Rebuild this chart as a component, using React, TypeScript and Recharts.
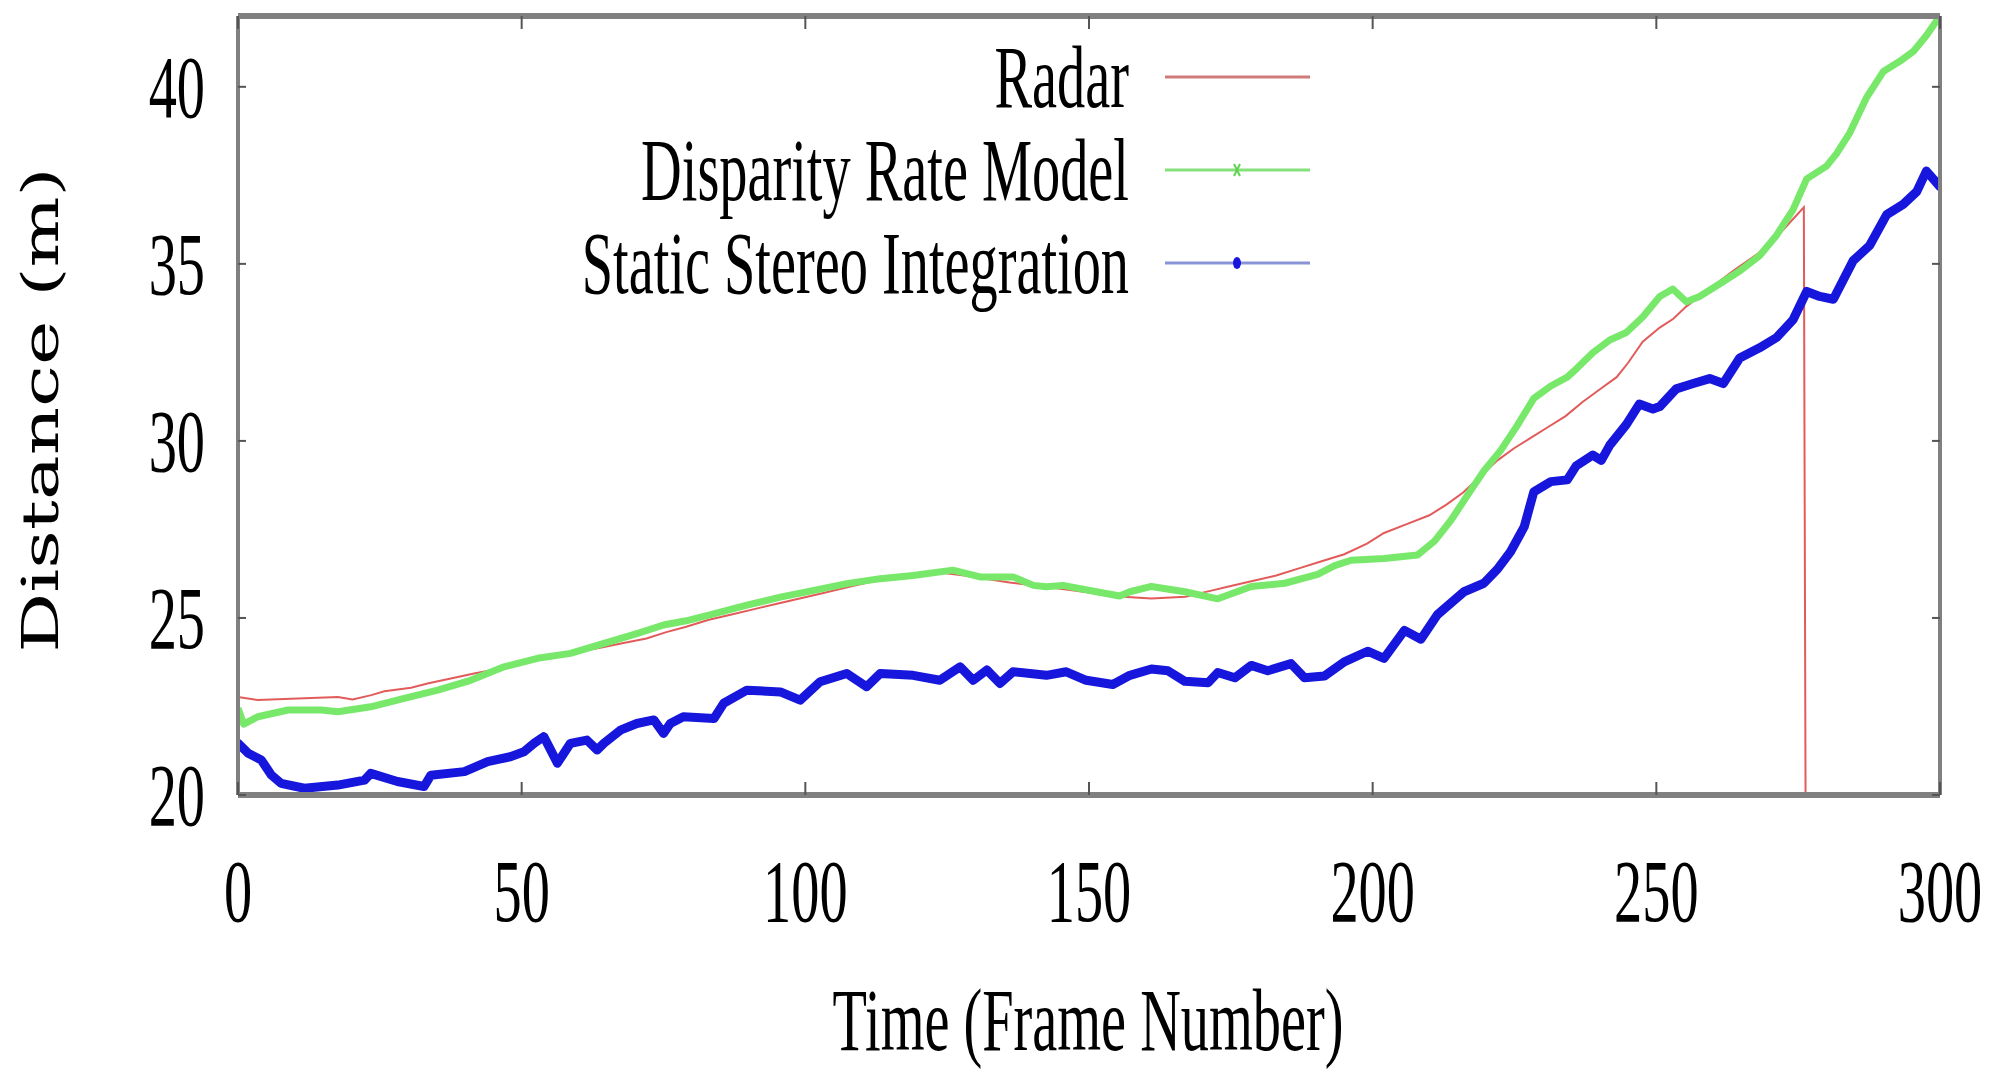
import { Line, LineChart, XAxis, YAxis } from "recharts";

const X_TICKS = [0, 50, 100, 150, 200, 250, 300];
const Y_TICKS = [20, 25, 30, 35, 40];

// Radar (drops out after frame 276)
const RADAR_FRAMES = [
    0, 3.5, 17.6, 20.2, 23.5, 25.8, 30.5, 33.4, 37.5, 41.6, 46.3, 50, 54, 58.6, 64.5, 67.5, 72, 75.5, 79,
    83, 87, 91, 95, 99, 103, 107, 111, 115, 119, 123, 128, 132, 136, 141, 146, 151, 156, 161, 167,
    171, 175, 179, 183, 187, 191, 195, 199, 202, 206, 210, 213, 216, 219, 222, 225, 228, 231, 234,
    237, 240, 243, 245, 247.6, 250.6, 253, 255.3, 259.4, 263.5, 268, 272, 276, 276.3,
];
const RADAR_DIST = [
    22.77, 22.68, 22.77, 22.7, 22.82, 22.93, 23.03, 23.15, 23.29, 23.43, 23.57, 23.71, 23.85, 24.0, 24.18, 24.28, 24.42, 24.6, 24.75,
    24.95, 25.1, 25.25, 25.4, 25.55, 25.7, 25.85, 26.0, 26.1, 26.2, 26.3, 26.2, 26.1, 26.0, 25.9, 25.8, 25.7, 25.6, 25.55, 25.6,
    25.75, 25.9, 26.05, 26.2, 26.4, 26.6, 26.8, 27.1, 27.4, 27.65, 27.9, 28.2, 28.55, 29.0, 29.45, 29.8, 30.1, 30.4, 30.7,
    31.1, 31.45, 31.8, 32.2, 32.8, 33.2, 33.45, 33.8, 34.3, 34.8, 35.3, 35.9, 36.6, 20,
];

// Disparity Rate Model
const DRM_FRAMES = [
    0, 1, 3.5, 8.8, 14.7, 17.6, 23.4, 29.3, 35.2, 41, 46.9, 52.8, 58.6, 64.5, 70.3, 75, 79, 84, 89.7, 95.6,
    101.5, 107.3, 113.2, 119, 126, 130.8, 136.6, 140.2, 142.5, 145.4, 151.3, 155.4, 157.2, 161, 166.9, 172.7,
    178.6, 184.5, 190.3, 193.3, 196.2, 202, 207.9, 210.9, 213.8, 216.7, 219.6, 222.6, 225.5, 228.4, 231.4,
    234.3, 236, 238.8, 241.8, 244.7, 247.6, 250.6, 252.9, 255.3, 257.6, 261.2, 264.7, 268.2, 271.2, 274.1,
    276.5, 280, 281.8, 284.1, 287.1, 290, 292.9, 295.3, 297.6, 300,
];
const DRM_DIST = [
    22.45, 22.0, 22.21, 22.4, 22.4, 22.35, 22.49, 22.73, 22.96, 23.24, 23.62, 23.86, 24.0, 24.28, 24.56, 24.8, 24.92, 25.12, 25.36, 25.59,
    25.78, 25.97, 26.11, 26.2, 26.35, 26.16, 26.16, 25.92, 25.88, 25.92, 25.74, 25.62, 25.74, 25.89, 25.74, 25.54,
    25.89, 25.98, 26.23, 26.48, 26.63, 26.68, 26.78, 27.17, 27.76, 28.46, 29.15, 29.74, 30.44, 31.2, 31.55,
    31.8, 32.05, 32.49, 32.85, 33.06, 33.5, 34.08, 34.29, 33.93, 34.08, 34.44, 34.8, 35.23, 35.81, 36.53,
    37.4, 37.76, 38.12, 38.7, 39.71, 40.43, 40.72, 41.0, 41.45, 42.0,
];

// Static Stereo Integration
const SSI_FRAMES = [
    0, 1.8, 4.1, 5.9, 7.6, 11.7, 17.6, 22.3, 23.4, 28.1, 32.8, 34, 39.9, 44, 48, 50.4, 52.2, 53.9, 56.3, 58.6,
    61.5, 63.3, 64.5, 67.4, 70.3, 73.3, 75, 76.2, 78.5, 83.9, 85.6, 89.7, 95.6, 99.1, 102.6, 107.3, 110.8, 113.2,
    119, 123.7, 127.3, 129.6, 132, 134.3, 136.6, 142.5, 146, 149.5, 154.2, 157.2, 161, 163.9, 166.9, 171, 172.7,
    175.7, 178.6, 181.5, 185.6, 188, 191.5, 195, 199.1, 202, 205.6, 208.5, 211.4, 216.1, 219.6, 222, 224.3,
    226.7, 228.4, 231.4, 234.3, 235.9, 238.8, 240.3, 241.8, 244.7, 247, 249.4, 250.6, 253.5, 256.5, 259.4,
    261.8, 264.7, 268.2, 271.2, 274.1, 276.5, 278.8, 281.2, 284.7, 287.6, 290.6, 293.5, 295.9, 297.6, 300,
];
const SSI_DIST = [
    21.46, 21.18, 20.99, 20.56, 20.33, 20.19, 20.28, 20.42, 20.61, 20.38, 20.24, 20.56, 20.66, 20.94, 21.08, 21.22, 21.46, 21.65, 20.9, 21.46,
    21.55, 21.27, 21.46, 21.83, 22.02, 22.12, 21.74, 22.02, 22.21, 22.16, 22.59, 22.96, 22.91, 22.68, 23.2, 23.43, 23.06, 23.43,
    23.38, 23.24, 23.62, 23.24, 23.53, 23.15, 23.48, 23.38, 23.48, 23.24, 23.12, 23.38, 23.56, 23.51, 23.21, 23.17, 23.46,
    23.31, 23.66, 23.51, 23.71, 23.31, 23.36, 23.76, 24.06, 23.86, 24.65, 24.4, 25.09, 25.74, 25.98, 26.38, 26.87,
    27.57, 28.56, 28.85, 28.9, 29.3, 29.6, 29.45, 29.88, 30.46, 31.04, 30.9, 30.97, 31.47, 31.62, 31.76,
    31.62, 32.34, 32.63, 32.92, 33.42, 34.22, 34.08, 34.0, 35.09, 35.52, 36.39, 36.68, 37.04, 37.62, 37.18,
];

const toPoints = (frames: number[], values: number[]) =>
    frames.map((frame, i) => ({ frame, value: values[i] }));

const radarData = toPoints(RADAR_FRAMES, RADAR_DIST);
const drmData = toPoints(DRM_FRAMES, DRM_DIST);
const ssiData = toPoints(SSI_FRAMES, SSI_DIST);

const FONT = "'Liberation Serif', 'Times New Roman', serif";
const SQUEEZE = 0.64;
const FRAME_COLOR = "#808080";
const TICK_COLOR = "#555";

const BottomTick = ({ x, y, payload }: any) => (
    <g>
        <line x1={x} x2={x} y1={y} y2={y - 13} stroke={TICK_COLOR} strokeWidth={2} />
        <text transform={`translate(${x},${y + 126}) scale(${SQUEEZE},1)`} textAnchor="middle" fontSize={88} fontFamily={FONT} fill="#000">
            {payload.value}
        </text>
    </g>
);

const TopTick = ({ x, y }: any) => (
    <line x1={x} x2={x} y1={y} y2={y + 13} stroke={TICK_COLOR} strokeWidth={2} />
);

const LeftTick = ({ x, y, payload }: any) => (
    <g>
        <line x1={x} x2={x + 8} y1={y} y2={y} stroke={TICK_COLOR} strokeWidth={2} />
        <text transform={`translate(${x - 33},${y + 30}) scale(${SQUEEZE},1)`} textAnchor="end" fontSize={88} fontFamily={FONT} fill="#000">
            {payload.value}
        </text>
    </g>
);

const RightTick = ({ x, y }: any) => (
    <line x1={x} x2={x - 8} y1={y} y2={y} stroke={TICK_COLOR} strokeWidth={2} />
);

const LEGEND_ROWS = [
    { label: "Radar", color: "#d07a7a", y: 77, marker: "none" },
    { label: "Disparity Rate Model", color: "#86e07c", y: 170, marker: "cross" },
    { label: "Static Stereo Integration", color: "#8a92d8", y: 263, marker: "dot" },
];

export default function App() {
    return (
        <div style={{ position: "absolute", left: 0, top: 0, width: 2011, height: 1075, background: "#fff" }}>
            <LineChart width={2011} height={1075} margin={{ top: 0, right: 61, bottom: 0, left: 0 }}>
                <XAxis
                    xAxisId="bottom"
                    type="number"
                    dataKey="frame"
                    domain={[0, 300]}
                    ticks={X_TICKS}
                    interval={0}
                    allowDataOverflow
                    height={280}
                    tickSize={0}
                    tickMargin={0}
                    tickLine={false}
                    axisLine={{ stroke: FRAME_COLOR, strokeWidth: 6 }}
                    tick={BottomTick}
                />
                <XAxis
                    xAxisId="top"
                    orientation="top"
                    type="number"
                    dataKey="frame"
                    domain={[0, 300]}
                    ticks={X_TICKS}
                    interval={0}
                    allowDataOverflow
                    height={16}
                    tickSize={0}
                    tickMargin={0}
                    tickLine={false}
                    axisLine={{ stroke: FRAME_COLOR, strokeWidth: 6 }}
                    tick={TopTick}
                />
                <YAxis
                    yAxisId="left"
                    type="number"
                    domain={[20, 42]}
                    ticks={Y_TICKS}
                    interval={0}
                    allowDataOverflow
                    width={238}
                    tickSize={0}
                    tickMargin={0}
                    tickLine={false}
                    axisLine={{ stroke: FRAME_COLOR, strokeWidth: 4 }}
                    tick={LeftTick}
                />
                <YAxis
                    yAxisId="right"
                    orientation="right"
                    type="number"
                    domain={[20, 42]}
                    ticks={Y_TICKS}
                    interval={0}
                    allowDataOverflow
                    width={10}
                    tickSize={0}
                    tickMargin={0}
                    tickLine={false}
                    axisLine={{ stroke: FRAME_COLOR, strokeWidth: 4 }}
                    tick={RightTick}
                />
                <Line
                    data={radarData}
                    xAxisId="bottom"
                    yAxisId="left"
                    dataKey="value"
                    name="Radar"
                    type="linear"
                    stroke="#e25b5b"
                    strokeWidth={2}
                    dot={false}
                    isAnimationActive={false}
                />
                <Line
                    data={drmData}
                    xAxisId="bottom"
                    yAxisId="left"
                    dataKey="value"
                    name="Disparity Rate Model"
                    type="linear"
                    stroke="#78e86a"
                    strokeWidth={7}
                    strokeLinejoin="round"
                    dot={false}
                    isAnimationActive={false}
                />
                <Line
                    data={ssiData}
                    xAxisId="bottom"
                    yAxisId="left"
                    dataKey="value"
                    name="Static Stereo Integration"
                    type="linear"
                    stroke="#1616dc"
                    strokeWidth={9}
                    strokeLinejoin="round"
                    strokeLinecap="round"
                    dot={false}
                    isAnimationActive={false}
                />
            </LineChart>

            {/* legend + axis titles */}
            <svg width={2011} height={1075} style={{ position: "absolute", left: 0, top: 0, pointerEvents: "none" }}>
                {LEGEND_ROWS.map((row) => (
                    <g key={row.label}>
                        <text transform={`translate(1129,${row.y + 30}) scale(${SQUEEZE},1)`} textAnchor="end" fontSize={88} fontFamily={FONT} fill="#000">
                            {row.label}
                        </text>
                        <line x1={1165} x2={1310} y1={row.y} y2={row.y} stroke={row.color} strokeWidth={3} />
                        {row.marker === "cross" && (
                            <g stroke="#5cd24e" strokeWidth={2}>
                                <line x1={1234} x2={1240} y1={row.y - 6} y2={row.y + 6} />
                                <line x1={1234} x2={1240} y1={row.y + 6} y2={row.y - 6} />
                            </g>
                        )}
                        {row.marker === "dot" && <ellipse cx={1237} cy={row.y} rx={4} ry={6} fill="#1616dc" />}
                    </g>
                ))}
                <text transform={`translate(1088,1050) scale(${SQUEEZE},1)`} textAnchor="middle" fontSize={88} fontFamily={FONT} fill="#000">
                    Time (Frame Number)
                </text>
                <text transform="translate(58,410) rotate(-90) scale(1,0.66)" textAnchor="middle" fontSize={75} fontFamily="'DejaVu Serif', serif" fill="#000">
                    Distance (m)
                </text>
            </svg>
        </div>
    );
}
